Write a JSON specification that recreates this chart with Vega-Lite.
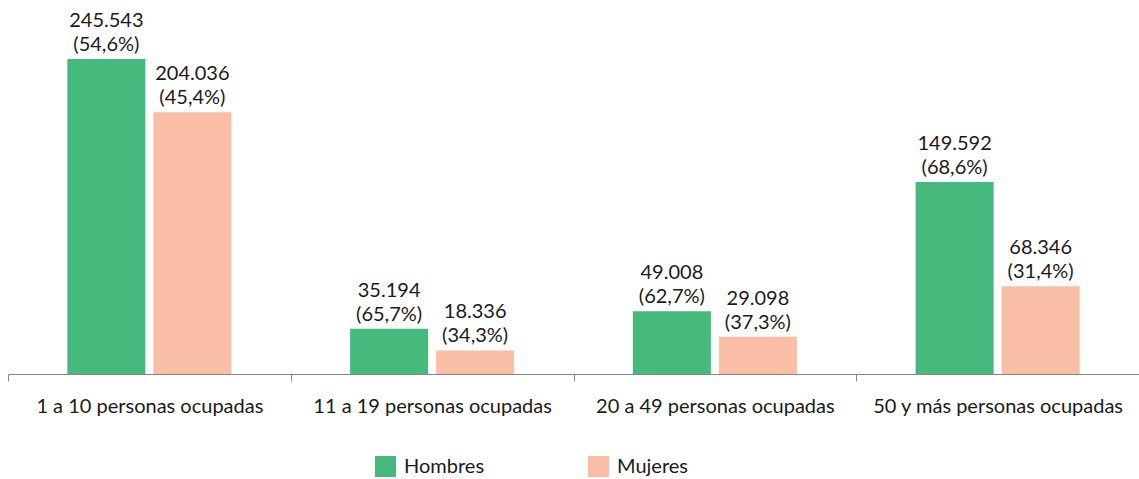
{
  "$schema": "https://vega.github.io/schema/vega-lite/v6.json",
  "autosize": {"type": "none"},
  "width": 1131,
  "height": 372,
  "padding": {"left": 8, "top": 2, "right": 0, "bottom": 105},
  "background": "white",
  "config": {"view": {"stroke": null}, "font": "Lato"},
  "data": {"values": [
    {"cat": "1 a 10 personas ocupadas", "sexo": "Hombres", "valor": 245543, "label": "245.543\n(54,6%)"},
    {"cat": "1 a 10 personas ocupadas", "sexo": "Mujeres", "valor": 204036, "label": "204.036\n(45,4%)"},
    {"cat": "11 a 19 personas ocupadas", "sexo": "Hombres", "valor": 35194, "label": "35.194\n(65,7%)"},
    {"cat": "11 a 19 personas ocupadas", "sexo": "Mujeres", "valor": 18336, "label": "18.336\n(34,3%)"},
    {"cat": "20 a 49 personas ocupadas", "sexo": "Hombres", "valor": 49008, "label": "49.008\n(62,7%)"},
    {"cat": "20 a 49 personas ocupadas", "sexo": "Mujeres", "valor": 29098, "label": "29.098\n(37,3%)"},
    {"cat": "50 y más personas ocupadas", "sexo": "Hombres", "valor": 149592, "label": "149.592\n(68,6%)"},
    {"cat": "50 y más personas ocupadas", "sexo": "Mujeres", "valor": 68346, "label": "68.346\n(31,4%)"}
  ]},
  "encoding": {
    "x": {"field": "cat", "type": "nominal", "sort": null,
      "scale": {"paddingInner": 0, "paddingOuter": 0},
      "axis": {"title": null, "labelAngle": 0, "labelFontSize": 20, "labelColor": "#1a1a1a",
        "domainColor": "#868686", "tickColor": "#868686", "tickBand": "extent", "tickSize": 7,
        "labelPadding": 15, "labelLimit": 400}},
    "xOffset": {"field": "sexo", "type": "nominal", "scale": {"paddingInner": 0.093, "paddingOuter": 0.69}},
    "y": {"field": "valor", "type": "quantitative", "scale": {"domain": [0, 290000], "nice": false}, "axis": null}
  },
  "layer": [
    {
      "mark": {"type": "bar"},
      "encoding": {
        "color": {"field": "sexo", "type": "nominal",
          "scale": {"domain": ["Hombres", "Mujeres"], "range": ["#46B97C", "#FABEA6"]},
          "legend": {"title": null, "orient": "none", "legendX": 367, "legendY": 454, "direction": "horizontal",
            "symbolType": "square", "symbolSize": 441, "symbolStrokeWidth": 0, "symbolOpacity": 1,
            "labelFontSize": 20, "labelColor": "#1a1a1a", "labelOffset": 8, "columnPadding": 103}}
      }
    },
    {
      "mark": {"type": "text", "baseline": "bottom", "dy": -28, "fontSize": 20, "lineBreak": "\n", "lineHeight": 24, "color": "#1a1a1a"},
      "encoding": {"text": {"field": "label"}}
    }
  ]
}
